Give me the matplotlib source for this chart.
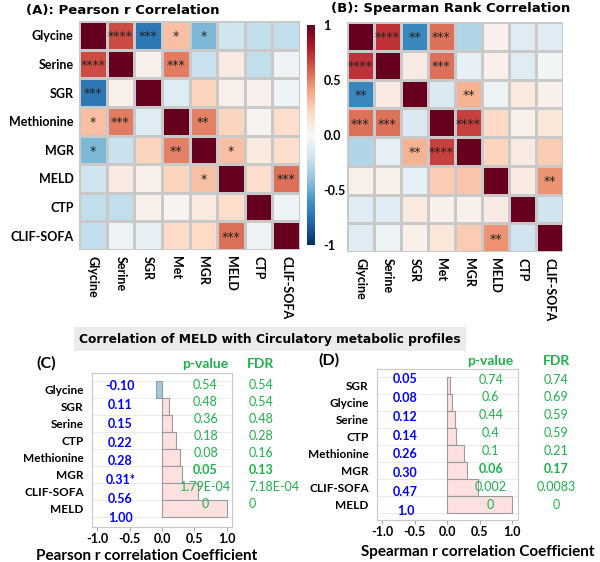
import matplotlib.pyplot as plt
import numpy as np

plt.rcParams['font.family'] = ['Lato', 'DejaVu Sans']

labels = ['Glycine', 'Serine', 'SGR', 'Methionine', 'MGR', 'MELD', 'CTP', 'CLIF-SOFA']
col_labels = ['Glycine', 'Serine', 'SGR', 'Met', 'MGR', 'MELD', 'CTP', 'CLIF-SOFA']

pearson = np.array([
    [1.00, 0.65, -0.72, 0.30, -0.45, -0.20, -0.25, -0.25],
    [0.65, 1.00, 0.05, 0.52, -0.22, 0.08, -0.25, -0.05],
    [-0.72, 0.05, 1.00, -0.12, 0.22, 0.05, 0.05, -0.05],
    [0.30, 0.52, -0.12, 1.00, 0.50, 0.22, 0.03, 0.18],
    [-0.45, -0.22, 0.22, 0.50, 1.00, 0.30, 0.10, 0.18],
    [-0.20, 0.08, 0.05, 0.22, 0.30, 1.00, 0.18, 0.55],
    [-0.25, -0.25, 0.05, 0.03, 0.10, 0.18, 1.00, -0.05],
    [-0.25, -0.05, -0.08, 0.20, 0.20, 0.55, -0.05, 1.00],
])
pearson_stars = {(0, 1): '****', (0, 2): '***', (0, 3): '*', (0, 4): '*',
                 (1, 0): '****', (1, 3): '***', (2, 0): '***', (3, 0): '*',
                 (3, 1): '***', (3, 4): '**', (4, 0): '*', (4, 3): '**',
                 (4, 5): '*', (5, 4): '*', (5, 7): '***', (7, 5): '***'}

spearman = np.array([
    [1.00, 0.72, -0.65, 0.55, -0.30, 0.05, -0.12, -0.12],
    [0.72, 1.00, 0.08, 0.55, -0.08, 0.05, -0.12, -0.03],
    [-0.65, 0.08, 1.00, -0.15, 0.35, -0.05, 0.10, 0.05],
    [0.55, 0.55, -0.15, 1.00, 0.68, 0.20, 0.05, 0.12],
    [-0.30, -0.08, 0.35, 0.68, 1.00, 0.22, 0.08, 0.25],
    [0.05, 0.05, -0.08, 0.25, 0.28, 1.00, 0.08, 0.45],
    [-0.12, -0.12, 0.10, 0.05, 0.05, 0.08, 1.00, -0.20],
    [-0.12, -0.05, 0.05, 0.12, 0.25, 0.45, -0.20, 1.00],
])
spearman_stars = {(0, 1): '****', (0, 2): '**', (0, 3): '***', (1, 0): '****',
                  (1, 3): '***', (2, 0): '**', (2, 4): '**', (3, 0): '***',
                  (3, 1): '***', (3, 4): '****', (4, 2): '**', (4, 3): '****',
                  (5, 7): '**', (7, 5): '**'}

# MELD correlations
c_names = ['Glycine', 'SGR', 'Serine', 'CTP', 'Methionine', 'MGR', 'CLIF-SOFA', 'MELD']
c_r = [-0.10, 0.11, 0.15, 0.22, 0.28, 0.31, 0.56, 1.00]
c_rtxt = ['-0.10', '0.11', '0.15', '0.22', '0.28', '0.31*', '0.56', '1.00']
c_p = ['0.54', '0.48', '0.36', '0.18', '0.08', '0.05', '1.79E-04', '0']
c_fdr = ['0.54', '0.54', '0.48', '0.28', '0.16', '0.13', '7.18E-04', '0']

d_names = ['SGR', 'Glycine', 'Serine', 'CTP', 'Methionine', 'MGR', 'CLIF-SOFA', 'MELD']
d_r = [0.05, 0.08, 0.12, 0.14, 0.26, 0.30, 0.47, 1.0]
d_rtxt = ['0.05', '0.08', '0.12', '0.14', '0.26', '0.30', '0.47', '1.0']
d_p = ['0.74', '0.6', '0.44', '0.4', '0.1', '0.06', '0.002', '0']
d_fdr = ['0.74', '0.69', '0.59', '0.59', '0.21', '0.17', '0.0083', '0']

W, H = 600, 562
fig = plt.figure(figsize=(6, 5.62), dpi=100)


def px_axes(x0, y0, x1, y1):
    return fig.add_axes([x0 / W, 1 - y1 / H, (x1 - x0) / W, (y1 - y0) / H])


GREEN = '#1eb14b'
BLUE = '#0000ff'
WIDE = ['DejaVu Sans']


def heatmap(ax, mat, stars, rowlabels):
    n = mat.shape[0]
    mesh = ax.pcolormesh(mat, cmap='RdBu_r', vmin=-1, vmax=1,
                         edgecolors='#c9c9c9', linewidth=0.8)
    ax.set_xlim(0, n)
    ax.set_ylim(n, 0)
    ax.set_xticks(np.arange(n) + 0.5)
    ax.set_xticklabels(col_labels, rotation=-90, fontsize=9, fontweight='bold')
    ax.set_yticks(np.arange(n) + 0.5)
    if rowlabels:
        ax.set_yticklabels(labels, fontsize=9, fontweight='bold')
    else:
        ax.set_yticklabels([])
    ax.tick_params(length=0, pad=4)
    for s in ax.spines.values():
        s.set_visible(False)
    for (i, j), st in stars.items():
        ax.text(j + 0.5, i + 0.55, st, ha='center', va='center', fontsize=9,
                color='#222222', family='DejaVu Sans')
    return mesh


axA = px_axes(79, 21, 300, 250)
mesh = heatmap(axA, pearson, pearson_stars, True)
axA.set_title('(A): Pearson r Correlation', fontsize=9.5, fontweight='bold',
              family=WIDE, x=0.2, pad=5)

axB = px_axes(347, 22, 563, 252)
heatmap(axB, spearman, spearman_stars, False)
axB.set_title('(B): Spearman Rank Correlation', fontsize=9.5, fontweight='bold',
              family=WIDE, x=0.48, pad=7)

cax = px_axes(307, 25, 315, 245)
cb = fig.colorbar(mesh, cax=cax, ticks=[-1, -0.5, 0, 0.5, 1])
cb.ax.set_yticklabels(['-1', '-0.5', '0.0', '0.5', '1'], fontsize=9, fontweight='bold')
cb.ax.tick_params(length=0, pad=6)
cb.outline.set_visible(False)

fig.text(270 / W, 1 - 339 / H, 'Correlation of MELD with Circulatory metabolic profiles',
         ha='center', va='center', fontsize=8.8, fontweight='bold', family=WIDE,
         bbox=dict(boxstyle='square,pad=0.45', facecolor='#ebebeb', edgecolor='none'))


def barpanel(ax, names, r, rtxt, pv, fdr, ylim, xlim, ry, py, fdr_x, fdr_ha, hdr_y,
             xlabel, tag):
    n = len(names)
    y = np.arange(n)
    colors = ['#9ecae1' if v < 0 else '#fde0e0' for v in r]
    ax.barh(y, r, height=1.0, color=colors, edgecolor='#9a9a9a', linewidth=0.8,
            zorder=2)
    for b in np.arange(n + 1) - 0.5:
        ax.axhline(b, color='#ececec', linewidth=0.7, zorder=1)
    ax.set_xlim(*xlim)
    ax.set_ylim(*ylim)
    ax.set_yticks(y)
    ax.set_yticklabels(names, fontsize=8.5, fontweight='bold')
    ax.set_xticks([-1, -0.5, 0, 0.5, 1])
    ax.set_xticklabels(['-1.0', '-0.5', '0.0', '0.5', '1.0'], fontsize=9,
                       fontweight='bold')
    ax.tick_params(axis='y', length=0, pad=6)
    ax.tick_params(axis='x', length=3, color='#aaaaaa', pad=1)
    for s in ax.spines.values():
        s.set_color('#c8c8c8')
    ax.set_xlabel(xlabel, fontsize=11, fontweight='bold', va='center')
    for i in range(n):
        bold = 'bold' if i == 5 else 'normal'
        ax.text(-0.64, ry[i], rtxt[i], ha='center', va='center', color=BLUE,
                fontsize=9, fontweight='bold', zorder=3)
        ax.text(0.67, py[i], pv[i], ha='center', va='center', color=GREEN,
                fontsize=9, fontweight=bold, zorder=3)
        ax.text(fdr_x, py[i], fdr[i], ha=fdr_ha, va='center', color=GREEN,
                fontsize=9, fontweight=bold, clip_on=False, zorder=3)
    ax.text(0.67, hdr_y, 'p-value', ha='center', va='center', color=GREEN,
            fontsize=10, fontweight='bold', clip_on=False)
    hx = fdr_x + 0.18 if fdr_ha == 'left' else fdr_x
    ax.text(hx, hdr_y, 'FDR', ha='center', va='center', color=GREEN,
            fontsize=10, fontweight='bold', clip_on=False)
    ax.text(tag[0], hdr_y, tag[1], ha='left', va='center', fontsize=11.5,
            fontweight='bold', clip_on=False)


axC = px_axes(92, 373, 232, 527)
idx = np.arange(8)
barpanel(axC, c_names, c_r, c_rtxt, c_p, c_fdr,
         ylim=(8.06, -1.0), xlim=(-1.077, 1.077),
         ry=-0.24 + 1.11 * idx, py=idx - 0.3,
         fdr_x=1.33, fdr_ha='left', hdr_y=-1.55,
         xlabel='Pearson r correlation Coefficient', tag=(-1.93, '(C)'))
axC.xaxis.set_label_coords(0.39, -0.19)

axD = px_axes(377, 369, 518, 520)
barpanel(axD, d_names, d_r, d_rtxt, d_p, d_fdr,
         ylim=(7.9, -0.97), xlim=(-1.077, 1.09),
         ry=-0.38 + 1.108 * idx, py=1.05 * idx - 0.35,
         fdr_x=1.68, fdr_ha='center', hdr_y=-1.45,
         xlabel='Spearman r correlation Coefficient', tag=(-1.98, '(D)'))
axD.xaxis.set_label_coords(0.716, -0.21)

fig.savefig('out.png', dpi=100)
